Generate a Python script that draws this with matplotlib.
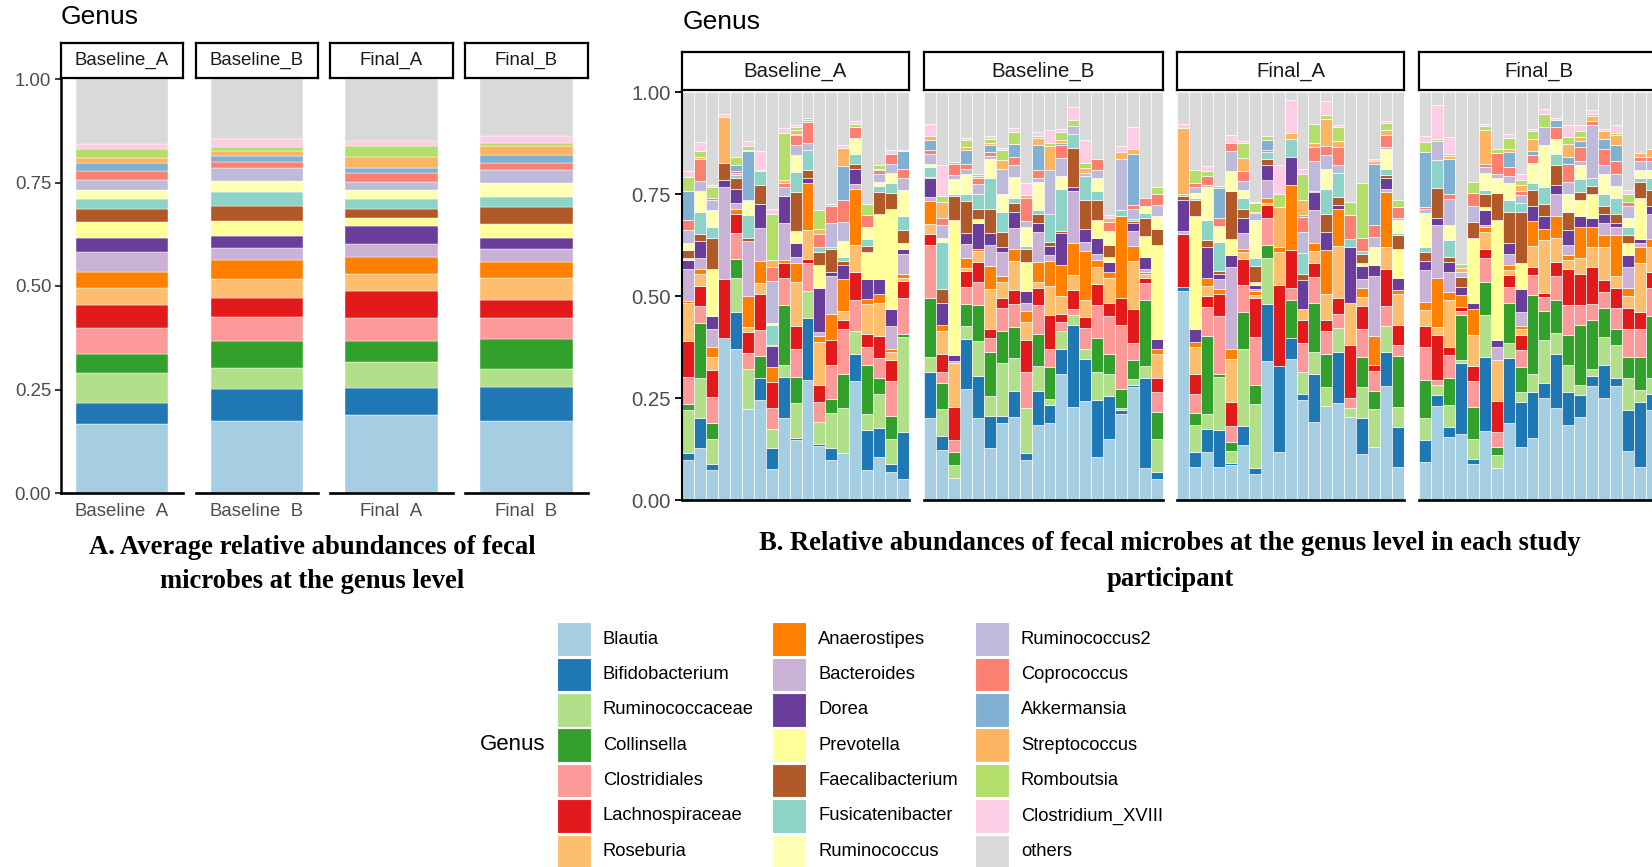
import numpy as np
import matplotlib
matplotlib.use("Agg")
import matplotlib.pyplot as plt
from matplotlib.patches import Rectangle

plt.rcParams["font.family"] = ["Liberation Sans", "DejaVu Sans"]

W, H = 1652, 867

GENERA = ["Blautia", "Bifidobacterium", "Ruminococcaceae", "Collinsella", "Clostridiales",
          "Lachnospiraceae", "Roseburia", "Anaerostipes", "Bacteroides", "Dorea", "Prevotella",
          "Faecalibacterium", "Fusicatenibacter", "Ruminococcus", "Ruminococcus2", "Coprococcus",
          "Akkermansia", "Streptococcus", "Romboutsia", "Clostridium_XVIII", "others"]
CODES = ["Bla", "Bif", "Rca", "Col", "Cld", "Lac", "Ros", "Ana", "Bac", "Dor", "Pre",
         "Fae", "Fus", "Rum", "Ru2", "Cop", "Akk", "Str", "Rom", "Cxv"]
COLORS = ["#A6CEE3", "#1F78B4", "#B2DF8A", "#33A02C", "#FB9A99", "#E31A1C", "#FDBF6F",
          "#FF7F00", "#CAB2D6", "#6A3D9A", "#FFFF99", "#B15928", "#8DD3C7", "#FFFFB3",
          "#BEBADA", "#FB8072", "#80B1D3", "#FDB462", "#B3DE69", "#FCCDE5", "#D9D9D9"]
GROUPS = ["Baseline_A", "Baseline_B", "Final_A", "Final_B"]

# Group means: cumulative upper edge (%) of each genus, stacked in legend order
avg_baseline_a = [16.7, 21.7, 29.1, 33.5, 39.8, 45.5, 49.4, 53.3, 58.2, 61.7,
                  65.4, 68.6, 71.0, 73.2, 75.5, 77.8, 79.6, 80.9, 83.1, 84.2]
avg_baseline_b = [17.3, 25.1, 30.3, 36.6, 42.6, 47.1, 51.8, 56.4, 59.1, 62.0,
                  65.8, 69.4, 72.8, 75.4, 78.4, 79.9, 81.5, 82.6, 83.6, 85.4]
avg_final_a = [18.8, 25.3, 31.7, 36.7, 42.2, 48.8, 53.0, 57.1, 60.1, 64.4,
               66.5, 68.5, 71.0, 73.2, 75.1, 77.2, 78.6, 81.1, 83.7, 85.1]
avg_final_b = [17.3, 25.5, 30.0, 37.2, 42.2, 46.5, 52.0, 55.9, 58.9, 61.5,
               65.0, 69.2, 71.5, 74.9, 78.0, 79.6, 81.7, 83.7, 84.6, 86.3]

# Per-participant profiles: cumulative upper edge (%) of each genus present
samples_baseline_a = [
    dict(Bla=9.8, Bif=11.4, Rca=22, Col=23.5, Cld=30.2, Lac=39, Ros=48.2, Ana=48.8, Bac=56.5, Dor=58.9, Pre=59.2, Fae=61.2, Rum=63.1, Ru2=66.1, Cop=68.7, Akk=75.7, Rom=79.2, Cxv=80.6),
    dict(Bla=12.8, Bif=20, Rca=30, Col=43.3, Cld=47.6, Lac=52.4, Ros=55.5, Ana=56.6, Bac=59.2, Dor=63.4, Fae=65.1, Fus=70.6, Rum=75.7, Ru2=78.2, Cop=83.5, Str=84.1, Rom=85.6, Cxv=87.8),
    dict(Bla=7.3, Bif=8.8, Rca=14.9, Col=18.8, Cld=25.3, Lac=31.8, Ros=35.1, Ana=37.6, Bac=41.9, Dor=45.1, Pre=56.6, Fae=64.2, Fus=66.9, Rum=71.2, Ru2=73.5, Cop=74, Rom=76.7, Cxv=77.1),
    dict(Bla=39.8, Lac=54.1, Bac=76.7, Dor=78.4, Fae=82.7, Str=93.9, Cxv=94.7),
    dict(Bla=36.9, Bif=46, Rca=54.4, Col=59, Cld=65.5, Lac=70, Ana=71.4, Bac=72.9, Dor=76.3, Fae=78.9, Fus=79.6, Ru2=80.2, Cop=80.7, Akk=82.2, Rom=84.1),
    dict(Bla=22.4, Rca=32.2, Cld=36.1, Lac=41.2, Ros=42.3, Ana=50, Bac=63.5, Fae=64.1, Fus=69.8, Rum=73.5, Akk=85.5, Str=85.7, Rom=86.7, Cxv=87.9),
    dict(Bla=24.5, Bif=30, Col=35.3, Cld=41.6, Lac=50.4, Ros=53.3, Ana=58.5, Bac=66.7, Dor=72.5, Fae=77.1, Fus=80.6, Cop=81, Cxv=85.6),
    dict(Bla=7.6, Bif=12.7, Rca=17.3, Cld=22.6, Lac=29, Ana=32.5, Dor=37.7, Fae=38.1, Fus=42.9, Rum=43.3, Ru2=53.6, Cop=57.1, Str=58.9, Rom=70.2, Cxv=71.4),
    dict(Bla=20.2, Bif=30.2, Rca=33.2, Col=47.8, Cld=54.5, Lac=58.1, Ana=58.8, Bac=68, Dor=74.4, Ru2=76.7, Cop=77.8, Str=78.4, Rom=90, Cxv=91.2),
    dict(Bla=14.7, Bif=15.1, Rca=23.7, Col=30.2, Cld=36.9, Lac=42.7, Ros=53.5, Ana=58.2, Bac=59.6, Dor=63, Pre=66, Fae=75.5, Fus=80.4, Rum=84.5, Ru2=87.1, Cop=89.4, Akk=89.6, Str=90.6, Rom=91.3, Cxv=91.8),
    dict(Bla=29.4, Bif=44.5, Rca=51.2, Cld=58, Lac=59, Ros=66.1, Ana=77.7, Dor=78.9, Fae=80.8, Fus=85.7, Ru2=87.6, Cop=92.7, Str=93.1, Rom=93.7),
    dict(Bla=13.2, Bif=13.7, Rca=19.2, Cld=24.1, Lac=28.3, Ros=38.8, Ana=40.2, Bac=41.2, Dor=52, Pre=57.7, Fae=60.8, Fus=62, Cop=65.1, Str=66.3, Rom=71),
    dict(Bla=9.8, Bif=12.8, Rca=21.4, Col=24.7, Cld=33.1, Lac=39.3, Ana=45.5, Bac=54.9, Dor=55.8, Fae=61.6, Fus=62, Ru2=68, Cop=72.1, Rom=72.5),
    dict(Bla=11.4, Rca=22.6, Col=30.8, Cld=42, Lac=44.1, Ros=46.3, Ana=54.1, Dor=57.7, Fae=58.6, Fus=59.6, Rum=63.5, Ru2=68.2, Cop=73.6, Akk=81.8, Str=86.3, Cxv=87.1),
    dict(Bla=29.2, Bif=35.9, Rca=41.4, Cld=49, Lac=55.9, Ros=62.4, Ana=76.2, Bac=77.4, Dor=81.2, Fae=82.3, Fus=84.9, Rum=88.7, Cop=91.4, Rom=92.2, Cxv=92.8),
    dict(Bla=7.3, Bif=17.1, Rca=21.1, Col=33.1, Cld=37.6, Lac=40.8, Ros=48, Ana=49.2, Dor=54.1, Pre=60.7, Fae=62.2, Fus=63.9, Rum=66.9, Cop=69.8, Rom=72.5),
    dict(Bla=10.6, Bif=17.7, Rca=26, Col=29.8, Cld=34.7, Lac=40.2, Ros=48.2, Ana=50.6, Dor=54.1, Pre=70, Fae=75.5, Fus=76.9, Rum=78, Ru2=79.8, Cop=80.8, Akk=81.2, Rom=82),
    dict(Bla=6.9, Bif=8.9, Rca=14.9, Col=20.7, Cld=29.1, Lac=34.3, Ros=36.3, Ana=37.1, Bac=42.7, Dor=46.9, Pre=71.4, Fae=75.3, Fus=77.8, Rum=80.2, Ru2=82.3, Cop=84.7, Cxv=85.9),
    dict(Bla=5.1, Bif=16.6, Rca=40, Col=40.6, Cld=49.6, Lac=53.6, Ros=54.4, Ana=55.5, Bac=60.2, Dor=61.6, Pre=63, Fae=66.1, Fus=69.6, Rum=75.9, Ru2=78.9, Cop=81.2, Akk=85.5, Cxv=85.7),
]

samples_baseline_b = [
    dict(Bla=20, Bif=31.3, Rca=35.1, Col=49.6, Cld=62.4, Lac=65.1, Ros=67.6, Ana=73.2, Bac=74.3, Dor=78.8, Fae=79.2, Fus=81.6, Rum=82.3, Ru2=84.7, Cop=85.9, Akk=88.3, Str=89.1, Cxv=92.1),
    dict(Bla=12.2, Bif=15.7, Rca=22.4, Col=28.7, Cld=31.4, Lac=35.7, Ros=41.4, Ana=42.9, Dor=48.2, Fae=51.8, Fus=63.3, Rum=64.1, Ru2=67.3, Cop=69.2, Str=73.1, Rom=74.4, Cxv=82),
    dict(Bla=5.3, Rca=8.6, Col=11.8, Cld=14.7, Lac=22.7, Ros=33.5, Bac=34, Dor=35.5, Pre=68.6, Fae=74.4, Fus=75.1, Rum=78.6, Ru2=79.6, Cop=82.4, Str=82.9),
    dict(Bla=27.3, Bif=39.4, Rca=42.7, Col=48, Cld=52.2, Lac=56.2, Ros=56.9, Ana=59.2, Bac=62.7, Dor=65.5, Fae=73.3, Fus=75.1, Rum=80, Ru2=81.2, Cop=82.3, Akk=85.9, Str=86.4, Rom=88.2, Cxv=88.7),
    dict(Bla=20.2, Bif=30.4, Rca=39, Col=47.8, Cld=53.5, Lac=58.4, Ros=61.1, Ana=61.6, Dor=67.9, Pre=68.8, Fae=71.4, Fus=75.1, Ru2=77.4, Cop=78.8, Str=79.4, Rom=79.8),
    dict(Bla=12.7, Bif=20.6, Rca=25.6, Col=36.3, Cld=39.8, Lac=41.8, Ros=51.7, Ana=57.3, Bac=62.6, Dor=65.5, Fae=71.4, Fus=78.8, Rum=83.7, Ru2=84.3, Cop=85.3, Akk=86.9, Str=87.6, Rom=88.6, Cxv=89.1),
    dict(Bla=18.8, Bif=20.6, Rca=33.7, Col=41.5, Cld=47.1, Lac=49.6, Ros=53.5, Ana=54.9, Bac=60.7, Dor=61.9, Fae=65.6, Fus=70.6, Rum=74.9, Ru2=81.1, Str=83.3, Rom=85.7, Cxv=86.3),
    dict(Bla=20.4, Bif=26.7, Rca=34.9, Col=42.4, Cld=48, Lac=51.4, Ros=58.6, Ana=61.6, Bac=66.7, Dor=70.6, Fae=72.8, Fus=73.9, Rum=79.2, Ru2=82, Cop=84.1, Akk=87.2, Rom=90.2, Cxv=91.2),
    dict(Bla=9.8, Bif=11.4, Rca=22.6, Cld=31.3, Lac=39.2, Ros=43.7, Ana=46.4, Bac=48.2, Dor=51.3, Pre=58.4, Fae=61.6, Fus=62.3, Rum=66.9, Ru2=68.4, Cop=74, Str=74.7, Cxv=77.7),
    dict(Bla=18.4, Bif=26.7, Rca=32.9, Col=40.8, Cld=47.8, Lac=52, Ros=53.5, Ana=58.4, Bac=65.7, Dor=67.9, Fae=70.2, Fus=71, Rum=78, Ru2=78.9, Cop=81, Akk=87.1, Str=88.7, Rom=89.1, Cxv=90.2),
    dict(Bla=18.8, Bif=23.3, Rca=24.7, Col=32.7, Cld=36.9, Lac=45.3, Ros=52.4, Ana=58.6, Bac=60, Dor=62.3, Fae=63.3, Fus=70, Ru2=80.8, Str=86.7, Rom=87.6, Cxv=90.6),
    dict(Bla=31, Bif=37.1, Rca=41.5, Cld=43.7, Lac=45.5, Ros=50, Ana=57.7, Dor=65.5, Fae=66, Fus=76.2, Rum=79.4, Ru2=83.8, Cop=87.1, Akk=87.6, Str=88.2, Rom=90.2, Cxv=91),
    dict(Bla=22.7, Bif=43, Rca=45.3, Cld=46.9, Lac=51.4, Ros=55.1, Ana=62.9, Bac=75.7, Dor=76.7, Fae=86.3, Fus=89.8, Ru2=91.7, Rom=93.1, Cxv=96.3),
    dict(Bla=24.2, Bif=34.5, Rca=36.9, Cld=42.2, Lac=44.9, Ros=49, Ana=61.1, Bac=63.3, Dor=66.4, Fae=73.5, Fus=79.4, Ru2=80.2, Str=81.4, Rom=82.7, Cxv=88.3),
    dict(Bla=10.6, Bif=24.5, Rca=31.3, Col=39.8, Cld=47.9, Lac=52.9, Ros=57.1, Ana=58.8, Bac=60.2, Dor=64.2, Pre=68.7, Fae=73.5, Fus=75.7, Rum=79, Ru2=80.8, Cop=83.5),
    dict(Bla=14.9, Bif=25.6, Rca=31, Col=35.9, Cld=45.1, Lac=48.4, Ros=54.3, Ana=55.9, Dor=58.4, Pre=59.6, Fae=62.4, Rum=66, Cop=68.2, Str=69, Cxv=69.8),
    dict(Bla=21, Bif=22, Rca=22.6, Col=27.3, Cld=43, Lac=49.6, Ana=69.6, Fus=71, Ru2=83.5, Str=85.3, Cxv=86.7),
    dict(Bla=27.8, Bif=28.3, Rca=29.6, Col=34.3, Cld=38.5, Lac=46.8, Ros=58.5, Ana=62.3, Bac=65.9, Dor=67.8, Fae=68.4, Fus=68.8, Ru2=71.4, Cop=72.4, Akk=84.9, Str=86, Cxv=91.4),
    dict(Bla=7.9, Bif=30, Rca=32.8, Col=49.1, Cld=53.1, Lac=54.5, Ros=55.3, Ana=55.9, Bac=56.7, Dor=59.6, Pre=64.7, Fae=69, Fus=70.4, Rum=72.1, Cop=73.9),
    dict(Bla=5.1, Bif=6.9, Rca=14.9, Col=21.6, Cld=26.4, Lac=29.8, Ros=35.7, Ana=37.1, Dor=39.4, Pre=62.4, Fae=66.5, Rum=69.6, Ru2=72.4, Cop=75.1, Rom=76.7),
]

samples_final_a = [
    dict(Bla=51.3, Bif=52.1, Lac=65.3, Bac=65.9, Dor=73.5, Fae=74.6, Fus=74.9, Str=91.2, Cxv=92.2),
    dict(Bla=8.2, Bif=11.8, Rca=18.4, Col=21.4, Cld=26.1, Lac=31, Ros=37.6, Ana=38.8, Dor=42, Pre=69.6, Fae=73.5, Fus=74.1, Rum=75.3, Ru2=76.7, Cop=77.6, Rom=80.8),
    dict(Bla=11.7, Bif=17.4, Rca=21.1, Col=40.2, Cld=47.3, Lac=50, Ros=52.4, Ana=54.3, Dor=62, Fae=63.7, Fus=68.7, Rum=76.7, Ru2=77.3, Cop=79.4, Rom=80.7, Cxv=81.9),
    dict(Bla=8.2, Bif=17.1, Rca=30.2, Col=30.8, Cld=45.1, Lac=50.6, Ana=51.7, Bac=54.1, Dor=55.5, Fae=56.2, Fus=63.3, Rum=67.1, Cop=69, Akk=76.5, Rom=77),
    dict(Bla=8.6, Bif=9.1, Rca=12, Col=14.3, Cld=18.2, Lac=24.1, Ros=34.5, Ana=36.9, Bac=57.1, Dor=60, Pre=63.9, Fae=75.8, Rum=80.6, Ru2=85.5, Cop=87.6, Cxv=89.4),
    dict(Bla=13.6, Bif=18.2, Rca=36.9, Col=46, Cld=52.7, Lac=59, Ros=60.7, Ana=61.5, Bac=65.5, Dor=69.2, Fae=71.4, Fus=73.9, Rum=75.9, Ru2=78.1, Cop=80.6, Str=83.8, Rom=87.5, Cxv=87.9),
    dict(Bla=6.3, Bif=7.9, Rca=23.5, Col=28.2, Cld=40, Lac=49.4, Ros=50.2, Ana=51.2, Bac=51.8, Dor=52.8, Pre=53.5, Fae=57.3, Fus=59.2, Rum=68.6, Ru2=70.4, Cop=70.6, Rom=72.7, Cxv=73.1),
    dict(Bla=34, Bif=48, Rca=59.3, Col=62.4, Cld=69.1, Lac=72.2, Ros=72.7, Ana=73.9, Bac=78.5, Dor=82.2, Fae=83.5, Fus=85.3, Cop=85.9, Akk=88.2, Rom=89.2),
    dict(Bla=11.8, Bif=32.9, Lac=52.7, Ros=60.8, Ana=62, Str=71.8, Rom=75, Cxv=82),
    dict(Bla=34.5, Bif=39.8, Col=49, Cld=52, Lac=61.2, Ana=77.1, Dor=84.1, Fus=88.4, Str=90, Cxv=98),
    dict(Bla=24.5, Bif=25.9, Rca=31.4, Cld=38.6, Lac=44.1, Ros=46.9, Dor=53.9, Fae=55.5, Fus=60.6, Ru2=65.7, Cop=69.4, Akk=69.8, Str=73.5, Rom=79.8, Cxv=81.2),
    dict(Bla=19, Bif=31, Rca=36.3, Col=48.2, Cld=54.7, Lac=58.2, Ros=61.1, Ana=62.9, Bac=71, Dor=75.5, Fae=75.8, Ru2=83, Cop=86.5, Str=87.6, Rom=92.2),
    dict(Bla=23, Rca=27.8, Col=35.9, Cld=41.5, Lac=44.1, Ros=50.6, Ana=61.2, Dor=65.7, Fae=70.2, Fus=76.2, Rum=81.1, Ru2=84.5, Cop=86.8, Str=93.5, Rom=94.3, Cxv=97.7),
    dict(Bla=23.7, Bif=36.3, Rca=42.2, Cld=45.7, Lac=49.6, Ros=62.2, Ana=71.4, Dor=72.4, Fae=74.3, Fus=80.2, Ru2=82, Cop=86.5, Str=87.9, Rom=91.4, Cxv=91.8),
    dict(Bla=20.4, Rca=22.6, Cld=24.9, Lac=38, Ros=48.2, Dor=61.9, Fus=63.9, Cop=69.8, Rom=73.1),
    dict(Bla=11.3, Bif=20.2, Rca=27.8, Col=35.1, Cld=42, Lac=47.5, Ros=49.8, Ana=52, Bac=54.1, Dor=57.3, Pre=58.1, Fae=60.2, Fus=61.1, Cop=64.3, Rom=77.6),
    dict(Bla=13.1, Rca=22.4, Col=26.7, Cld=31.6, Lac=33.2, Ana=40.2, Bac=54.9, Dor=57.6, Rum=62, Ru2=64.5, Cop=67.5, Akk=82.4, Str=83, Cxv=83.5),
    dict(Bla=28, Bif=36.3, Rca=42.7, Cld=47.5, Lac=56.5, Ros=62, Ana=75.5, Bac=76.2, Dor=78.9, Fae=79.6, Fus=81.2, Rum=86.1, Ru2=86.5, Cop=89.4, Str=90.6, Rom=92.4, Cxv=93),
    dict(Bla=8.2, Bif=18, Rca=22.9, Col=35.3, Cld=38, Lac=42.9, Ros=50.6, Ana=51.4, Dor=54.5, Pre=61.6, Fae=65, Fus=65.5, Rum=68.6, Ru2=69.1, Cop=71.8, Rom=73.5),
]

samples_final_b = [
    dict(Bla=9.4, Bif=14.7, Rca=20, Col=29.4, Cld=37.4, Lac=42.7, Ros=46.5, Ana=48.6, Bac=56.3, Dor=58.5, Fae=60.7, Fus=61.9, Rum=70.4, Ru2=71.4, Cop=71.8, Akk=85.3, Rom=87.8, Cxv=89.1),
    dict(Bla=23.1, Bif=25.7, Rca=28.2, Cld=29.4, Lac=40.4, Ros=42.4, Ana=54.3, Bac=67.3, Dor=69.2, Fae=76.5, Fus=83.4, Ru2=88, Rom=88.6, Cxv=96.7),
    dict(Bla=15.5, Bif=18, Rca=23.3, Col=30, Cld=35.5, Lac=37.6, Ros=49, Ana=50.9, Bac=55.9, Dor=58.4, Fae=59.6, Fus=63.8, Rum=67.3, Ru2=73.7, Cop=75.1, Akk=83.5, Str=84.2, Rom=84.9, Cxv=89),
    dict(Bla=16.2, Bif=33.5, Rca=34.3, Col=45.3, Cld=46.4, Lac=47.3, Ana=50.2, Dor=52.1, Fae=54.7, Ru2=55.9, Str=56.9, Rom=57.8),
    dict(Bla=8.8, Bif=10, Rca=14.9, Col=22.9, Cld=29.2, Lac=32.8, Ros=40.4, Ana=46.9, Dor=48.3, Pre=64.3, Fae=68.2, Ru2=72.1, Cop=75.3, Rom=78),
    dict(Bla=17, Bif=35.1, Rca=45.3, Col=53.5, Cld=59.4, Lac=61.6, Ros=65.6, Ana=66.9, Bac=67.5, Dor=71.2, Pre=71.8, Fae=75.1, Fus=76.1, Rum=80.2, Ru2=81.6, Cop=82.4, Str=90.6, Rom=91.7, Cxv=92.1),
    dict(Bla=7.8, Rca=11, Col=12.9, Cld=16.7, Lac=24.3, Ros=34.4, Bac=37.4, Dor=39.2, Pre=68.7, Fae=75.3, Rum=78.8, Ru2=80, Cop=85.1, Rom=86.1),
    dict(Bla=18.8, Bif=34.7, Rca=38.4, Col=48.2, Cld=52.2, Lac=55.1, Ros=56.3, Ana=57.6, Bac=60.2, Dor=63.1, Fae=70.6, Fus=73.6, Rum=77.6, Ru2=79.3, Cop=81.6, Akk=85.3, Str=86.1, Rom=88.7, Cxv=89.6),
    dict(Bla=12.9, Bif=24.1, Rca=26.5, Col=32.7, Cld=36.7, Lac=40.4, Ros=42, Ana=42.6, Bac=46.1, Dor=51.8, Pre=58.2, Fae=70.6, Fus=72.8, Ru2=74.7, Cop=75.8, Str=77.1, Rom=78.5, Cxv=80),
    dict(Bla=15.3, Bif=26.5, Rca=31, Col=50.2, Cld=55.1, Lac=57.1, Ros=62.3, Ana=68.4, Dor=72.1, Fae=75.9, Fus=77.7, Rum=82.6, Cop=84.5, Akk=85.6, Str=88.6, Rom=90.4, Cxv=91),
    dict(Bla=25.1, Bif=28.6, Rca=39.2, Col=46.4, Cld=49.8, Lac=50.8, Ros=63.7, Ana=66.5, Dor=69.6, Fae=72.5, Fus=76.7, Rum=87.1, Ru2=91.3, Rom=94.7, Cxv=95.9),
    dict(Bla=22.6, Bif=35.7, Rca=41, Col=49.1, Cld=54.9, Lac=58.4, Ros=64.1, Ana=69.6, Bac=74.9, Dor=77.1, Fae=82, Fus=84.9, Rum=88.4, Cop=91.3, Akk=93.1, Cxv=93.7),
    dict(Bla=18.4, Bif=26.5, Rca=33.1, Col=40.4, Cld=47.8, Lac=56.7, Ros=58.8, Ana=60, Bac=62.4, Dor=66.1, Fae=70.6, Rum=75.1, Ru2=78, Cop=82.4, Akk=84.1, Str=87.3, Rom=89, Cxv=91.8),
    dict(Bla=20.4, Bif=25.7, Rca=28.2, Col=42.9, Cld=47.8, Lac=55.5, Ros=59.2, Ana=66.9, Dor=69.5, Pre=73.5, Fae=75.5, Fus=78.6, Rum=82, Ru2=83, Cop=86.5, Akk=88, Str=89, Rom=90.5, Cxv=92),
    dict(Bla=28, Bif=30.5, Rca=32.1, Col=44, Cld=48, Lac=57, Ros=62, Ana=67, Dor=69, Pre=75, Fae=77, Fus=79, Ru2=92, Cop=93, Str=94, Rom=94.5, Cxv=95.5),
    dict(Bla=25, Bif=33, Rca=40, Col=47, Cld=51, Lac=54, Ros=62, Ana=65, Bac=68, Dor=70, Fae=72, Fus=75, Rum=80, Ru2=82, Cop=86, Akk=88.5, Str=90.5, Cxv=91),
    dict(Bla=28, Bif=30, Rca=38, Col=42, Cld=47, Lac=52, Ros=55, Ana=65, Bac=67, Dor=68, Fae=70, Fus=74, Rum=77, Ru2=80, Cop=83, Akk=87, Str=89.5, Rom=90, Cxv=92),
    dict(Bla=12, Bif=22, Rca=30, Col=35, Cld=42, Lac=47, Ros=50, Ana=52, Bac=57, Dor=60, Pre=63, Fae=65, Fus=67, Rum=69, Ru2=72, Cop=73, Rom=75, Cxv=76),
    dict(Bla=8, Bif=24, Rca=27, Col=35, Cld=42, Lac=46, Ros=58, Ana=62, Bac=63, Dor=64, Pre=74, Fae=78, Fus=79, Rum=81, Ru2=83, Cop=84, Str=85),
    dict(Bla=22, Bif=26, Rca=30, Col=45, Cld=52, Lac=56, Ros=62, Ana=64, Bac=70, Dor=72, Fae=76, Fus=79, Rum=81, Ru2=83, Cop=84, Str=86),
]


def profile(tops):
    """Turn cumulative upper edges (%) into per-genus fractions, 'others' last."""
    vals, prev = [], 0.0
    for code in CODES:
        if code in tops:
            vals.append(tops[code] - prev)
            prev = tops[code]
        else:
            vals.append(0.0)
    vals.append(100.0 - prev)
    return np.array(vals) / 100.0


fig = plt.figure(figsize=(W / 100, H / 100), dpi=100)


def px_axes(x0, y0, x1, y1, **kw):
    return fig.add_axes([x0 / W, 1 - y1 / H, (x1 - x0) / W, (y1 - y0) / H], **kw)


def strip(x0, y0, x1, y1, label, size, lw):
    sa = px_axes(x0, y0, x1, y1)
    sa.set_xticks([])
    sa.set_yticks([])
    sa.set_facecolor("white")
    for sp in sa.spines.values():
        sp.set_linewidth(lw)
        sp.set_color("black")
    sa.text(0.5, 0.5, label, ha="center", va="center", fontsize=size,
            color="#1A1A1A", transform=sa.transAxes)


def stacked(ax, mat, width, edge_lw):
    x = np.arange(mat.shape[0])
    cum = np.cumsum(mat, axis=1)
    for g in range(mat.shape[1]):
        h = mat[:, g]
        keep = h > 0
        ax.bar(x[keep], h[keep], bottom=(cum[:, g] - h)[keep], width=width,
               color=COLORS[g], edgecolor="white", linewidth=edge_lw)


TICKS = [0, 0.25, 0.5, 0.75, 1.0]
TICK_LABELS = ["0.00", "0.25", "0.50", "0.75", "1.00"]

# ---- Panel A: group averages ----
avg_lists = [avg_baseline_a, avg_baseline_b, avg_final_a, avg_final_b]
panel_a_x = [(61, 183), (196, 318), (330, 453), (465, 588)]
for i, (grp, tops, (x0, x1)) in enumerate(zip(GROUPS, avg_lists, panel_a_x)):
    ax = px_axes(x0, 79, x1, 493)
    mat = profile(dict(zip(CODES, tops)))[None, :]
    stacked(ax, mat, 0.9, 0.3)
    ax.set_xlim(-0.6, 0.6)
    ax.set_ylim(0, 1)
    for s in ("top", "right"):
        ax.spines[s].set_visible(False)
    ax.spines["bottom"].set_linewidth(1.9)
    ax.set_xticks([0])
    ax.set_xticklabels([grp], fontsize=13.4, color="#4D4D4D")
    ax.tick_params(axis="x", length=0, pad=7)
    if i == 0:
        ax.spines["left"].set_linewidth(1.8)
        ax.set_yticks(TICKS)
        ax.set_yticklabels(TICK_LABELS, fontsize=13.4, color="#4D4D4D")
        ax.tick_params(axis="y", length=4.5, width=1.1, pad=2.5)
    else:
        ax.spines["left"].set_visible(False)
        ax.set_yticks([])
    strip(x0, 43, x1, 78, grp, 13.4, 1.6)

# ---- Panel B: individual participants ----
sample_lists = [samples_baseline_a, samples_baseline_b, samples_final_a, samples_final_b]
bar_px = 11.95
starts = [682, 924, 1177, 1419]
for i, (grp, bars, x0) in enumerate(zip(GROUPS, sample_lists, starts)):
    n = len(bars)
    x1 = x0 + n * bar_px
    ax = px_axes(x0, 92, x1, 500)
    mat = np.array([profile(b) for b in bars])
    stacked(ax, mat, 1.0, 0.45)
    ax.set_xlim(-0.5, n - 0.5)
    ax.set_ylim(0, 1)
    for s in ("top", "right"):
        ax.spines[s].set_visible(False)
    ax.spines["bottom"].set_linewidth(1.9)
    ax.set_xticks([])
    if i == 0:
        ax.spines["left"].set_linewidth(1.5)
        ax.set_yticks(TICKS)
        ax.set_yticklabels(TICK_LABELS, fontsize=14.7, color="#4D4D4D")
        ax.tick_params(axis="y", length=5, width=1.3, pad=3)
    else:
        ax.spines["left"].set_visible(False)
        ax.set_yticks([])
    strip(x0, 52, x1, 90, grp, 14.7, 1.6)

# ---- Titles, captions and legend on a pixel-space overlay ----
ov = px_axes(0, 0, W, H)
ov.set_xlim(0, W)
ov.set_ylim(H, 0)
ov.axis("off")
ov.set_zorder(10)

# trims the descenders of the panel A group labels
ov.add_patch(Rectangle((30, 518), 570, 13, facecolor="white", edgecolor="none"))

ov.text(61, 17, "Genus", fontsize=19, ha="left", va="center", color="black")
ov.text(683, 22, "Genus", fontsize=19, ha="left", va="center", color="black")

serif = ["Liberation Serif", "DejaVu Serif"]
cap_size = 19.2
ov.text(312, 547, "A. Average relative abundances of fecal", family=serif,
        fontweight="bold", fontsize=cap_size, ha="center", va="center")
ov.text(312, 582, "microbes at the genus level", family=serif,
        fontweight="bold", fontsize=cap_size, ha="center", va="center")
ov.text(1170, 544, "B. Relative abundances of fecal microbes at the genus level in each study",
        family=serif, fontweight="bold", fontsize=cap_size, ha="center", va="center")
ov.text(1170, 579, "participant", family=serif, fontweight="bold", fontsize=cap_size,
        ha="center", va="center")

ov.text(513, 744, "Genus", fontsize=16, ha="center", va="center", color="black")
key_x = [557, 772, 975]
label_x = [603, 818, 1021]
row_y0, row_dy, key_s = 639, 35.4, 33.5
for k, (name, col) in enumerate(zip(GENERA, COLORS)):
    c, r = divmod(k, 7)
    yc = row_y0 + r * row_dy
    ov.add_patch(Rectangle((key_x[c], yc - key_s / 2), key_s, key_s,
                           facecolor=col, edgecolor="white", linewidth=0.8))
    ov.text(label_x[c], yc, name, fontsize=13.2, ha="left", va="center", color="black")

fig.savefig("out.png", dpi=100)
